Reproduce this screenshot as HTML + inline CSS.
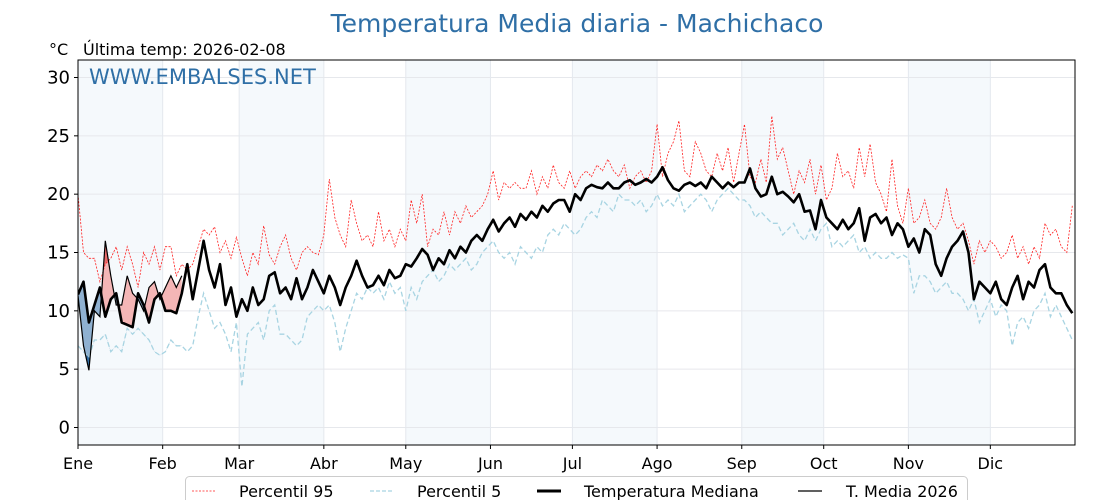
<!DOCTYPE html>
<html><head><meta charset="utf-8"><style>
body{margin:0;background:#fff;}
svg{display:block;font-family:"DejaVu Sans","Liberation Sans",sans-serif;}
</style></head><body>
<svg id="chart" width="1120" height="500" viewBox="0 0 1120 500">
<text x="577" y="32" text-anchor="middle" font-size="25" fill="#2f6fa6">Temperatura Media diaria - Machichaco</text>
<text x="49" y="55" font-size="16" fill="#000">°C</text>
<text x="83" y="55" font-size="16" fill="#000">Última temp: 2026-02-08</text>
<g id="plot"></g>
</svg>
<script>
const monthLabels=["Ene","Feb","Mar","Abr","May","Jun","Jul","Ago","Sep","Oct","Nov","Dic"];
const monthStartDays=[0,31,59,90,120,151,181,212,243,273,304,334];
const yTicks=[0,5,10,15,20,25,30];
const stepDays=2;
const median=[11.4,12.5,9,10.5,12,9.5,11,11.5,9,8.8,8.6,11.5,10.5,9,11,11.5,
10,10,9.8,11.5,14,11,13.5,16,13.5,12,14,10.5,12,9.5,
11,10,12,10.5,11,13,13.3,11.5,12,11,12.8,11,12,13.5,12.5,
11.5,13,12,10.5,12,13,14.3,13,12,12.2,13,12.2,13.5,12.8,13,
14,13.8,14.5,15.3,14.8,13.5,14.5,14,15.2,14.5,15.5,15,16,16.5,16,
17,17.8,16.8,17.5,18,17.2,18.3,17.8,18.5,18,19,18.5,19.2,19.5,19.5,18.5,
20,19.5,20.5,20.8,20.6,20.5,21,20.5,20.5,21,21.2,20.8,21,21.3,21,
21.5,22.3,21.2,20.5,20.3,20.8,21,20.7,21,20.5,21.5,21,20.5,21,20.6,21,
21,22.2,20.5,19.8,20,21.5,20,20.2,19.8,19.3,20,18.5,18.6,17,
19.5,18,17.5,17,17.8,17,17.5,18.8,16,18,18.3,17.5,18,16.5,17.5,17,
15.5,16.2,15,17,16.5,14,13,14.5,15.5,16,16.8,15,11,12.5,12,
11.5,12.5,11,10.5,12,13,11,12.5,12,13.5,14,12,11.5,11.5,10.5,9.8];
const p95=[20,15,14.5,14.5,12.5,14,14.5,15.5,13.5,15.5,14,12,15,14,15.5,13.5,
15.5,15.5,13,14,13.5,14,15.5,17,16.5,17.2,15,16,14.5,16.3,
14.5,13,15,14,17.3,14.8,14,15.5,16.5,14.5,13.5,15,15.5,15,14.8,
16.5,21.3,18,16.5,15.5,19.5,17.5,16,16.5,15.5,18.5,16,17,15.5,17,
16,19.5,17.5,20,15.5,17,16.5,18.5,16.5,18.5,17.5,19,18,18.5,19,
20,22,19.5,21,20.5,21,20.5,20.5,22,20,21.5,20.5,22.5,21,20.5,22,
20.5,21.5,22,21.5,22.5,22,23,22,21.5,22.5,20.5,21.5,22,21,22,
26,21.5,23.5,24.5,26.3,22,21.5,24.5,23.5,22,21.5,23.5,22,24,21,23.5,
26,21.5,21,23,21,26.7,23,24,22,20,22,21,23,20,
22.5,19.5,20.5,23.5,21.5,22,20.5,24,21.5,24.3,21,20,18.5,23,19,17.5,
20.5,17.5,18,19.5,17.5,17,18,20.5,18,17,17.5,16,14,16,15,
16,15.5,14.5,15,16.5,14.5,15.5,14,15.5,14.5,17.5,16.5,17,15.5,15,19];
const p5=[7,6.5,6,7.5,7.5,8,6.5,7,6.5,8.5,8,8.5,8,7.5,6.5,6.2,
6.5,7.5,7,7,6.5,7,9.5,11.5,10,8.5,9,8,6.5,9,
3.5,8,8.5,9,7.5,10,10.5,8,8,7.5,7,7.5,9.5,10,10.5,
10,10.5,9,6.5,8.5,10,11.5,11,12,11.5,12,11,12.5,11.5,12,
10,12,11,12.5,13,13.5,12.5,13,14,13.5,14,14.5,13.5,14,15,
15.5,16,15,14.5,15,14,15.5,15,14.5,15.5,15,16.5,17,16.5,17.5,17,
16.5,17,18,18.5,18,19.5,19,18.5,20,19.5,19.5,19,19.5,18.5,19,
20,19,19.5,19,20,18.5,19,19.5,20,19.5,18.5,19.5,20,20.5,20,19.5,
19.5,19,18,18.5,18,17.5,17.5,16.5,17,17.5,16.5,16,17,16,
17,17.5,15.5,16,15.5,16,16.5,15,15.5,14.5,15,14.5,14.5,15,14.5,14.8,
14.5,11.5,13,13,12.5,11.5,12,12.5,11.5,11.5,11,10,11,9,10,
11,9.5,10.5,10,7,9,9.5,8.5,10,10.5,11.5,9.5,10.5,9.5,8.5,7.5];
const t2026=[11.3,7,4.9,10,9.5,16,13,10.5,10.5,13,11.5,11,10,12,12.5,11,12,13,12,13];

const L=78,R=1075,T=60,B=445,days=365,yMin=-1.5,yMax=31.5;
const xs=d=>L+(d/days)*(R-L);
const ys=v=>B-(v-yMin)/(yMax-yMin)*(B-T);
const NS="http://www.w3.org/2000/svg";
const plot=document.getElementById('plot');
function mk(tag,attrs,parent){const e=document.createElementNS(NS,tag);for(const k in attrs)e.setAttribute(k,attrs[k]);(parent||plot).appendChild(e);return e;}
const pts=arr=>arr.map((v,i)=>xs(i*stepDays).toFixed(1)+","+ys(v).toFixed(1));

const defs=mk('defs',{});
const cp=mk('clipPath',{id:'pc'},defs);mk('rect',{x:L,y:T,width:R-L,height:B-T},cp);

monthStartDays.forEach((d,i)=>{
 if(i%2===0){const end=i<11?monthStartDays[i+1]:days;
  const r=mk('rect',{x:xs(d),y:T,width:xs(end)-xs(d),height:B-T,fill:'#f5f9fc'});
  
  }
});
yTicks.forEach(v=>{const g=mk('line',{x1:L,x2:R,y1:ys(v),y2:ys(v),stroke:'#e6e8ec','stroke-width':1});
 });
monthStartDays.forEach(d=>{const g=mk('line',{x1:xs(d),x2:xs(d),y1:T,y2:B,stroke:'#e4e8ee','stroke-width':1});
 });

const n26=t2026.length;
const medSub=median.slice(0,n26),p95Sub=p95.slice(0,n26),p5Sub=p5.slice(0,n26);
const a26=pts(t2026);
function area(top,bot){return "M"+top.join(" L")+" L"+bot.slice().reverse().join(" L")+" Z";}
function clipFrom(id,line,above){const c=mk('clipPath',{id:id},defs);
 const ptsl=pts(line);const edge=above?T:B;
 mk('path',{d:"M"+xs(0)+","+edge+" L"+ptsl.join(" L")+" L"+xs((line.length-1)*stepDays)+","+edge+" Z"},c);}
clipFrom('aboveMed',medSub,true);clipFrom('belowMed',medSub,false);
clipFrom('aboveP95',p95Sub,true);clipFrom('belowP5',p5Sub,false);
const g1=mk('g',{'clip-path':'url(#pc)'});
let f;
f=mk('path',{d:area(a26,pts(medSub)),fill:'#f4b6b6','clip-path':'url(#aboveMed)'},g1);

f=mk('path',{d:area(a26,pts(medSub)),fill:'#8fb1d1','clip-path':'url(#belowMed)'},g1);

f=mk('path',{d:area(a26,pts(p95Sub)),fill:'#e86a6a','clip-path':'url(#aboveP95)'},g1);

f=mk('path',{d:area(a26,pts(p5Sub)),fill:'#2f6aa0','clip-path':'url(#belowP5)'},g1);


let ln;
ln=mk('polyline',{points:pts(p95).join(" "),fill:'none',stroke:'#ff2020','stroke-width':0.8,'stroke-dasharray':'2,1.5'},g1);

ln=mk('polyline',{points:pts(p5).join(" "),fill:'none',stroke:'#a8d4e2','stroke-width':1.3,'stroke-dasharray':'5,3'},g1);

ln=mk('polyline',{points:pts(median).join(" "),fill:'none',stroke:'#000','stroke-width':2.6,'stroke-linejoin':'round'},g1);

ln=mk('polyline',{points:a26.join(" "),fill:'none',stroke:'#000','stroke-width':1.2},g1);


const fr=mk('rect',{x:L,y:T,width:R-L,height:B-T,fill:'none',stroke:'#000','stroke-width':1});

yTicks.forEach(v=>{mk('line',{x1:L-4,x2:L,y1:ys(v),y2:ys(v),stroke:'#000'});
 const t=mk('text',{x:L-8,y:ys(v)+6,'text-anchor':'end','font-size':18,fill:'#000'});t.textContent=v;
 });
monthStartDays.forEach((d,i)=>{mk('line',{x1:xs(d),x2:xs(d),y1:B,y2:B+4,stroke:'#000'});
 const t=mk('text',{x:xs(d),y:B+24,'text-anchor':'middle','font-size':16,fill:'#000'});t.textContent=monthLabels[i];
 });
const wm=mk('text',{x:89,y:84,'font-size':21,fill:'#2f6fa6'});wm.textContent="WWW.EMBALSES.NET";

const lg=mk('g',{});

mk('rect',{x:185.5,y:476.5,width:782,height:30,rx:4,fill:'#fff',stroke:'#ccc'},lg);
const items=[["Percentil 95",192,{stroke:'#ff2020','stroke-width':0.8,'stroke-dasharray':'2,1.5'},239],
 ["Percentil 5",370,{stroke:'#a8d4e2','stroke-width':1.3,'stroke-dasharray':'4,2'},417],
 ["Temperatura Mediana",537,{stroke:'#000','stroke-width':3},584],
 ["T. Media 2026",798,{stroke:'#000','stroke-width':1.2},846]];
items.forEach(it=>{const ent=mk('g',{},lg);
 
 mk('line',Object.assign({x1:it[1],x2:it[1]+24,y1:491,y2:491},it[2]),ent);
 const t=mk('text',{x:it[3],y:497,'font-size':16,fill:'#000'},ent);t.textContent=it[0];});
</script>
</body></html>
